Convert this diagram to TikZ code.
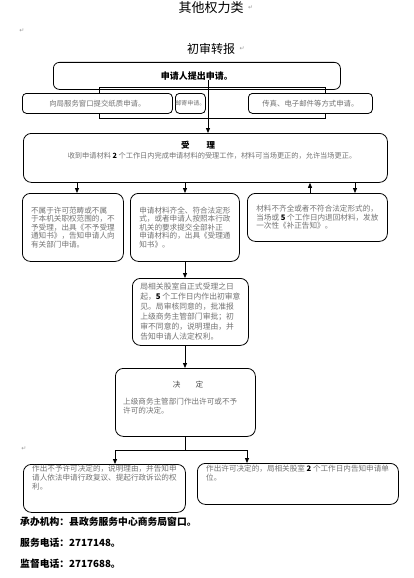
\documentclass[tikz,border=0pt]{standalone}
\usepackage{fontspec}
\setmainfont{Noto Sans CJK SC}
\newfontfamily\markfont{DejaVu Sans}
\XeTeXlinebreaklocale "zh"
\XeTeXlinebreakskip=0pt plus 1pt
\usetikzlibrary{positioning,arrows.meta}
\definecolor{txtgray}{gray}{0.45}
\definecolor{markgray}{gray}{0.6}
\newcommand\bnum[1]{\textcolor{black}{\textbf{#1}}}
\tikzset{
  box/.style={draw,rounded corners=8pt,fill=white,line width=.8pt,anchor=north west,
    inner sep=3pt,align=left,text=txtgray,font=\fontsize{7.6}{8.6}\selectfont},
  smallbox/.style={box,rounded corners=4pt,align=center,font=\fontsize{7.4}{8}\selectfont},
  txt/.style={inner sep=0pt,align=left,text=txtgray,font=\fontsize{7.6}{9}\selectfont},
  foot/.style={anchor=west,inner sep=0pt,font=\bfseries\fontsize{9.8}{10}\selectfont},
  pmark/.style={inner sep=0pt,text=markgray,font=\markfont\fontsize{6}{6}\selectfont},
  arr/.style={-{Triangle[length=5pt,width=4pt]},line width=.8pt}
}

\begin{document}
\begin{tikzpicture}[x=1pt,y=-1pt]
    \useasboundingbox (0,0) rectangle (414,578);
    % headings
    \node (title)[font=\fontsize{13}{13}\selectfont] at (211,8) {其他权力类};
    \node (m1)[pmark,right=1pt of title]{↵};
    \node (m2)[pmark] at (22,31) {↵};
    \node (stage)[font=\fontsize{12}{12}\selectfont] at (211,49) {初审转报};
    \node (m3)[pmark,right=1pt of stage]{↵};
    % application
    \draw[line width=.8pt] (99,87) rectangle (325,118);
    \node (apply)[box,rounded corners=6pt,fill=none,minimum width=287pt,minimum height=27pt,
        align=center,text=black,font=\bfseries\fontsize{9}{9}\selectfont] at (53,62) {申请人提出申请。};
    \node (bywin)[smallbox,minimum width=150pt,minimum height=20pt] at (22,93) {向局服务窗口提交纸质申请。};
    \node (bymail)[smallbox,minimum width=30pt,minimum height=20pt,inner xsep=0pt,
        font=\fontsize{6}{6}\selectfont] at (175,93) {邮寄申请。};
    \node (byfax)[smallbox,minimum width=124pt,minimum height=20pt] at (248,93) {传真、电子邮件等方式申请。};
    % acceptance
    \node (accept)[box,minimum width=364pt,minimum height=49pt] at (23,133) {};
    \node (accept-t)[inner sep=0pt,font=\bfseries\fontsize{8.5}{8.5}\selectfont] at (198,145) {受\hspace{2em}理};
    \node (accept-x)[txt,font=\fontsize{7.2}{8}\selectfont] at (212,156)
        {收到申请材料 \bnum{2} 个工作日内完成申请材料的受理工作，材料可当场更正的，允许当场更正。};
    \node (reject)[box,minimum width=101pt,minimum height=68pt] at (22,193)
        {不属于许可范畴或不属\\于本机关职权范围的，不\\予受理，出具《不予受理\\通知书》，告知申请人向\\有关部门申请。};
    \node (take)[box,minimum width=109pt,minimum height=68pt] at (130,193)
        {申请材料齐全、符合法定形\\式，或者申请人按照本行政\\机关的要求提交全部补正\\申请材料的，出具《受理通\\知书》。};
    \node (amend)[box,minimum width=140pt,minimum height=48pt] at (247,193)
        {材料不齐全或者不符合法定形式的，\\当场或 \bnum{5} 个工作日内退回材料，发放\\一次性《补正告知》。};
    % review and decision
    \node (review)[box,minimum width=116pt,minimum height=67pt,font=\fontsize{7.8}{10}\selectfont] at (132,278)
        {局相关股室自正式受理之日\\起，\bnum{5} 个工作日内作出初审意\\见。局审核同意的，批准报\\上级商务主管部门审批；初\\审不同意的，说明理由，并\\告知申请人法定权利。};
    \node (decide)[box,minimum width=140pt,minimum height=68pt] at (115,368) {};
    \node (decide-t)[txt,text=black!70] at (188,385) {决\hspace{2em}定};
    \node (decide-x)[txt,anchor=north west] at (123,398) {上级商务主管部门作出许可或不予\\许可的决定。};
    \node (m4)[pmark] at (24,449) {↵};
    \node (refuse)[box,minimum width=162pt,minimum height=48pt] at (23,464) {};
    \node (refuse-x)[txt,anchor=north west] at (32,465)
        {作出不予许可决定的，说明理由，并告知申\\请人依法申请行政复议、提起行政诉讼的权\\利。};
    \node (grant)[box,minimum width=201pt,minimum height=41pt] at (197,463) {};
    \node (grant-x)[txt,anchor=north west] at (206,465)
        {作出许可决定的，局相关股室 \bnum{2} 个工作日内告知申请单\\位。};
    % footer
    \node (org)[foot] at (20,522) {承办机构：县政务服务中心商务局窗口。};
    \node (tel1)[foot] at (20,543) {服务电话：2717148。};
    \node (tel2)[foot] at (20,564) {监督电话：2717688。};
    % connectors
    \coordinate (c-apply) at (208,80);
    \coordinate (xa) at (77,0);
    \coordinate (xb) at (185,0);
    \coordinate (xc) at (310,0);
    \coordinate (xd) at (355,0);
    \coordinate (xe) at (115,0);
    \coordinate (xf) at (247,0);
    \coordinate (fork) at (185,450);
    \draw[arr] (c-apply) -- (accept.north -| c-apply);
    \draw[arr] (accept.south -| xa) -- (reject.north -| xa);
    \draw[arr] (accept.south -| xb) -- (take.north -| xb);
    \draw[arr] (amend.north -| xc) -- (accept.south -| xc);
    \draw[arr] (accept.south -| xd) -- (amend.north -| xd);
    \draw[arr] (take.south -| xb) -- (review.north -| xb);
    \draw[arr] (review.south -| xb) -- (decide.north -| xb);
    \draw[line width=.8pt] (decide.south -| fork) -- (fork);
    \draw[arr] (fork) -| (refuse.north -| xe);
    \draw[arr] (fork) -| (grant.north -| xf);
\end{tikzpicture}
\end{document}
